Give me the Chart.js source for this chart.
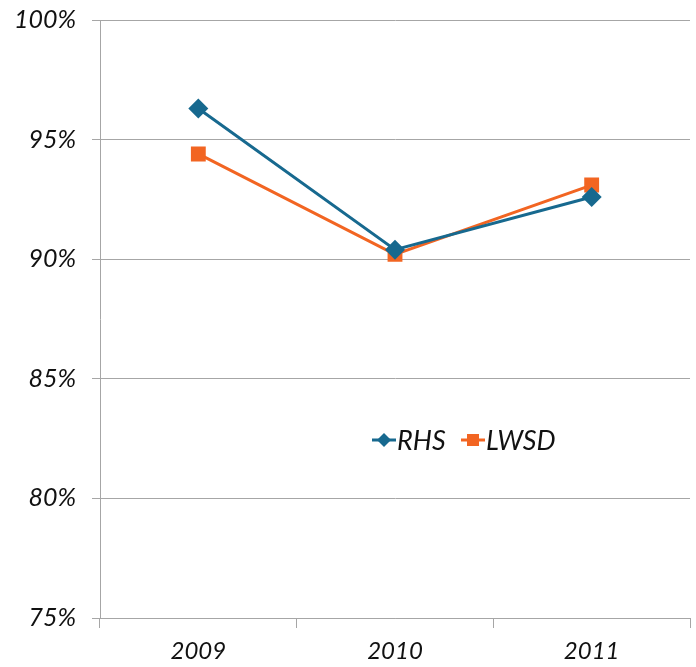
<!DOCTYPE html>
<html>
<head>
<meta charset="utf-8">
<script src="https://cdn.jsdelivr.net/npm/chart.js@4"></script>
<style>
  html, body { margin: 0; padding: 0; background: #fff; }
  #wrap { width: 696px; height: 667px; position: relative; }
</style>
</head>
<body>
<div id="wrap"><canvas id="chart"></canvas></div>
<script>
// data
const years = ['2009', '2010', '2011'];
const rhs = [96.3, 90.4, 92.6];
const lwsd = [94.4, 90.2, 93.1];
const yTicks = [75, 80, 85, 90, 95, 100];

const BLUE = '#17698f';
const ORANGE = '#f26522';
const FONT = 'Lato, "DejaVu Sans", sans-serif';

// legend sits inside the plot, so draw it by hand
const inlineLegend = {
    id: 'inlineLegend',
    afterDraw(chart) {
        const ctx = chart.ctx;
        const items = [
            { label: 'RHS', color: BLUE, style: 'rectRot', r: 7, x: 372 },
            { label: 'LWSD', color: ORANGE, style: 'rect', r: 8.5, x: 461 }
        ];
        const y = 440;
        ctx.save();
        ctx.font = 'italic 27px ' + FONT;
        ctx.textBaseline = 'middle';
        items.forEach(it => {
            ctx.strokeStyle = it.color;
            ctx.lineWidth = 3;
            ctx.beginPath();
            ctx.moveTo(it.x, y);
            ctx.lineTo(it.x + 24, y);
            ctx.stroke();
            ctx.fillStyle = it.color;
            Chart.helpers.drawPoint(ctx, { pointStyle: it.style, radius: it.r, borderWidth: 0 }, it.x + 12, y);
            ctx.fillStyle = '#111';
            ctx.fillText(it.label, it.x + 25, y + 1);
        });
        ctx.restore();
    }
};

new Chart(document.getElementById('chart'), {
    type: 'line',
    data: {
        labels: years,
        datasets: [
            {
                label: 'RHS',
                data: rhs,
                borderColor: BLUE,
                backgroundColor: BLUE,
                borderWidth: 3,
                pointStyle: 'rectRot',
                pointRadius: 10,
                pointBorderWidth: 0,
                tension: 0
            },
            {
                label: 'LWSD',
                data: lwsd,
                borderColor: ORANGE,
                backgroundColor: ORANGE,
                borderWidth: 3,
                pointStyle: 'rect',
                pointRadius: 10.5,
                pointBorderWidth: 0,
                tension: 0
            }
        ]
    },
    options: {
        responsive: true,
        maintainAspectRatio: false,
        animation: false,
        layout: { autoPadding: false, padding: { top: 20, right: 6, left: 0, bottom: 0 } },
        plugins: {
            legend: { display: false },
            tooltip: { enabled: false }
        },
        scales: {
            x: {
                offset: true,
                afterFit: axis => {
                    axis.height = 49;
                    axis.paddingLeft = 0;
                    axis.paddingRight = 0;
                },
                grid: {
                    offset: true,
                    drawOnChartArea: false,
                    drawTicks: true,
                    tickLength: 10,
                    color: '#a6a6a6'
                },
                border: { color: '#a6a6a6', width: 1 },
                ticks: {
                    color: '#111',
                    padding: 9,
                    font: { family: FONT, size: 24, style: 'italic' }
                }
            },
            y: {
                min: 75,
                max: 100,
                afterBuildTicks: axis => { axis.ticks = yTicks.map(v => ({ value: v })); },
                afterFit: axis => {
                    axis.width = 100;
                    axis.paddingTop = 0;
                    axis.paddingBottom = 0;
                },
                grid: { color: '#a6a6a6', tickLength: 8 },
                border: { color: '#a6a6a6', width: 1 },
                ticks: {
                    color: '#111',
                    padding: 16,
                    font: { family: FONT, size: 25, style: 'italic' },
                    callback: v => v + '%'
                }
            }
        }
    },
    plugins: [inlineLegend]
});
</script>
</body>
</html>
